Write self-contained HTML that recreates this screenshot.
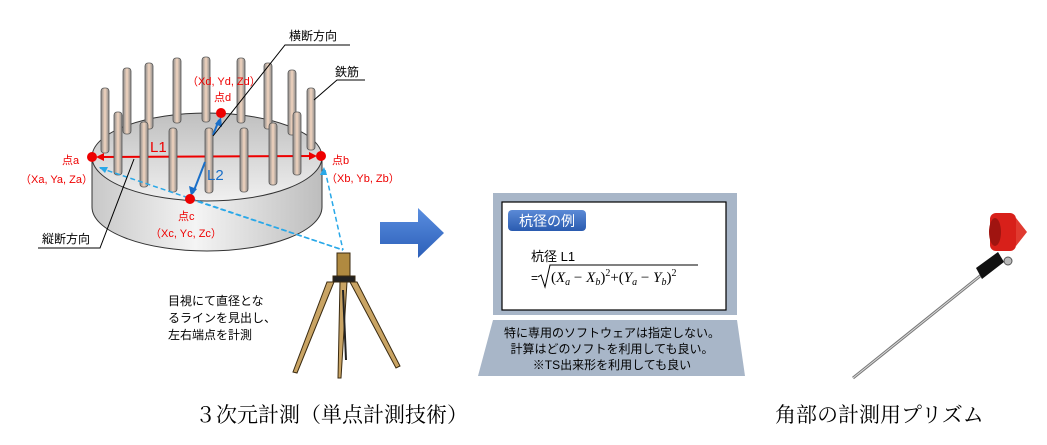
<!DOCTYPE html>
<html><head><meta charset="utf-8"><style>
body{margin:0;background:#fff;}
svg{display:block;font-family:"Liberation Sans","Noto Sans CJK JP",sans-serif;}
</style></head><body>
<svg width="1047" height="445" viewBox="0 0 1047 445">
<defs>
<linearGradient id="cyl" x1="0" x2="1"><stop offset="0" stop-color="#c8c8c8"/><stop offset="0.45" stop-color="#f4f4f4"/><stop offset="1" stop-color="#bdbdbd"/></linearGradient>
<linearGradient id="top" x1="0" y1="0" x2="0" y2="1"><stop offset="0" stop-color="#bfbfbf"/><stop offset="1" stop-color="#f0f0f0"/></linearGradient>
<linearGradient id="bar" x1="0" x2="1"><stop offset="0" stop-color="#8a8a8a"/><stop offset="0.5" stop-color="#f3d6c0"/><stop offset="1" stop-color="#8a8a8a"/></linearGradient>
<linearGradient id="blu" x1="0" y1="0" x2="0" y2="1"><stop offset="0" stop-color="#5b8ad6"/><stop offset="1" stop-color="#2a5bb0"/></linearGradient>
<linearGradient id="arr" x1="0" y1="0" x2="0" y2="1"><stop offset="0" stop-color="#5a8ee0"/><stop offset="1" stop-color="#2c5fb8"/></linearGradient>
</defs>
<path d="M92,157 L92,207 A115,44 0 0 0 322,207 L322,157 Z" fill="url(#cyl)" stroke="#333" stroke-width="1"/>
<ellipse cx="207" cy="157" rx="115" ry="44" fill="url(#top)" stroke="#333" stroke-width="1"/>
<g fill="url(#bar)" stroke="#555" stroke-width="0.8">
<rect x="101" y="88" width="8" height="65" rx="3"/>
<rect x="123" y="68" width="8" height="66" rx="3"/>
<rect x="145" y="63" width="8" height="66" rx="3"/>
<rect x="173" y="58" width="8" height="65" rx="3"/>
<rect x="202" y="57" width="8" height="65" rx="3"/>
<rect x="237" y="58" width="8" height="65" rx="3"/>
<rect x="264" y="63" width="8" height="66" rx="3"/>
<rect x="288" y="70" width="8" height="65" rx="3"/>
<rect x="307" y="88" width="8" height="62" rx="3"/>
</g>
<line x1="98" y1="157" x2="315" y2="156" stroke="#e00" stroke-width="2"/>
<polygon points="96,157 104,153 104,161" fill="#e00"/>
<polygon points="317,156 309,152 309,160" fill="#e00"/>
<g fill="url(#bar)" stroke="#555" stroke-width="0.8">
<rect x="114" y="112" width="8" height="63" rx="3"/>
<rect x="140" y="122" width="8" height="65" rx="3"/>
<rect x="169" y="128" width="8" height="64" rx="3"/>
<rect x="205" y="128" width="8" height="65" rx="3"/>
<rect x="240" y="128" width="8" height="64" rx="3"/>
<rect x="269" y="123" width="8" height="62" rx="3"/>
<rect x="293" y="112" width="8" height="63" rx="3"/>
</g>
<line x1="205" y1="162" x2="193" y2="193" stroke="#1a6fc8" stroke-width="2"/>
<polygon points="191,196 189,186 197,189" fill="#1a6fc8"/>
<line x1="213" y1="135" x2="219" y2="120" stroke="#1a6fc8" stroke-width="2"/>
<polygon points="221,117 222,127 215,124" fill="#1a6fc8"/>
<g stroke="#29a8e8" stroke-width="1.5" stroke-dasharray="5,3" fill="none">
<line x1="100" y1="168" x2="343" y2="250"/>
<line x1="190" y1="199" x2="343" y2="250"/>
<line x1="325" y1="170" x2="343" y2="250"/>
</g>
<polygon points="99,167 108,167 105,173" fill="#29a8e8"/>
<polygon points="324,167 320,175 327,175" fill="#29a8e8"/>
<circle cx="92" cy="157" r="5" fill="#e00"/>
<circle cx="321" cy="156" r="5" fill="#e00"/>
<circle cx="190" cy="199" r="5" fill="#e00"/>
<circle cx="221" cy="113" r="5" fill="#e00"/>
<g fill="#e00" font-size="11">
<text x="62" y="164">点a</text>
<text x="20" y="183">（Xa, Ya, Za）</text>
<text x="332" y="164">点b</text>
<text x="326" y="182">（Xb, Yb, Zb）</text>
<text x="178" y="220">点c</text>
<text x="150" y="237">（Xc, Yc, Zc）</text>
<text x="214" y="101">点d</text>
<text x="187" y="85">（Xd, Yd, Zd）</text>
<text x="150" y="152" font-size="15">L1</text>
</g>
<text x="207" y="180" font-size="15" fill="#1a6fc8">L2</text>
<g stroke="#000" stroke-width="1" fill="none">
<polyline points="213,136 285,45 350,45"/>
<polyline points="314,100 337,80 365,80"/>
<polyline points="134,159 100,248 38,248"/>
</g>
<g font-size="12" fill="#000">
<text x="289" y="40">横断方向</text>
<text x="335" y="76">鉄筋</text>
<text x="42" y="243">縦断方向</text>
<text x="168" y="305">目視にて直径とな</text>
<text x="168" y="322">るラインを見出し、</text>
<text x="168" y="339">左右端点を計測</text>
</g>
<g stroke="#3a2a10" stroke-width="1">
<rect x="337" y="253" width="13" height="25" fill="#b08a40"/>
<rect x="333" y="276" width="22" height="6" fill="#222"/>
<polygon points="334,282 327,282 293,372 297,373" fill="#c9a464"/>
<polygon points="340,282 347,282 341,378 338,378" fill="#c9a464"/>
<polygon points="350,282 357,282 400,366 396,368" fill="#c9a464"/>
</g>
<line x1="343" y1="290" x2="346" y2="360" stroke="#222" stroke-width="2"/>
<polygon points="380,222 418,222 418,208 444,233 418,258 418,244 380,244" fill="url(#arr)"/>
<rect x="493" y="193" width="244" height="122" fill="#a8b6c8"/>
<rect x="502" y="202" width="224" height="108" fill="#fff" stroke="#000" stroke-width="1.2"/>
<rect x="508" y="210" width="78" height="21" rx="4" fill="url(#blu)"/>
<text x="547" y="226" font-size="14" fill="#fff" text-anchor="middle">杭径の例</text>
<text x="531" y="261" font-size="13" fill="#000">杭径 L1</text>
<text x="531" y="282" font-size="12" fill="#000">=</text>
<path d="M538,277 L541,275 L545,287 L550,265 L698,265" stroke="#000" stroke-width="1" fill="none"/>
<text x="551" y="282" font-size="15" fill="#000" font-family="Liberation Serif,serif">(<tspan font-style="italic">X</tspan><tspan font-size="10" font-style="italic" dy="3">a</tspan><tspan dy="-3"> − </tspan><tspan font-style="italic">X</tspan><tspan font-size="10" font-style="italic" dy="3">b</tspan><tspan dy="-3">)</tspan><tspan font-size="10" dy="-6">2</tspan><tspan dy="6">+(</tspan><tspan font-style="italic">Y</tspan><tspan font-size="10" font-style="italic" dy="3">a</tspan><tspan dy="-3"> − </tspan><tspan font-style="italic">Y</tspan><tspan font-size="10" font-style="italic" dy="3">b</tspan><tspan dy="-3">)</tspan><tspan font-size="10" dy="-6">2</tspan></text>
<polygon points="493,320 737,320 745,376 478,376" fill="#a8b6c8"/>
<g font-size="12" fill="#000" text-anchor="middle">
<text x="612" y="337">特に専用のソフトウェアは指定しない。</text>
<text x="612" y="353">計算はどのソフトを利用しても良い。</text>
<text x="612" y="369">※TS出来形を利用しても良い</text>
</g>
<line x1="853" y1="378" x2="985" y2="272" stroke="#777" stroke-width="3"/>
<line x1="853" y1="378" x2="985" y2="272" stroke="#ddd" stroke-width="1"/>
<polygon points="976,268 998,252 1004,262 982,279" fill="#111"/>
<circle cx="1008" cy="261" r="4" fill="#bbb" stroke="#555"/>
<rect x="990" y="213" width="26" height="38" rx="6" fill="#d8201a"/>
<polygon points="1016,218 1027,232 1016,246" fill="#e03a30"/>
<ellipse cx="995" cy="232" rx="6" ry="14" fill="#a01410"/>
<g font-family="Liberation Serif,'Noto Serif CJK SC',serif" font-size="21" fill="#000">
<text x="195" y="422">３次元計測（単点計測技術）</text>
<text x="775" y="422">角部の計測用プリズム</text>
</g>
</svg>
</body></html>
